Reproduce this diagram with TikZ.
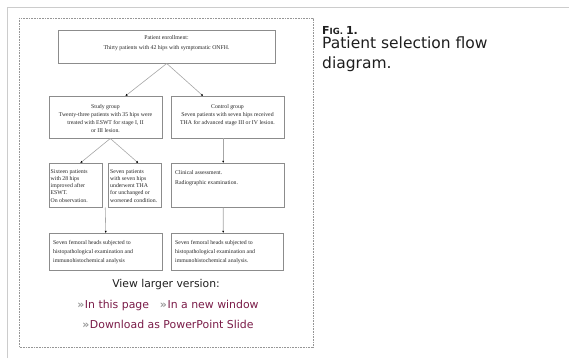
\documentclass[tikz,border=0pt]{standalone}
\usepackage{fontspec}
\setmainfont{DejaVu Sans}
\newfontfamily\flowfont{Liberation Serif}
\usetikzlibrary{arrows.meta,shadows,calc}

\definecolor{rulegray}{RGB}{204,204,204}
\definecolor{dotgray}{RGB}{150,150,150}
\definecolor{boxgray}{RGB}{140,140,140}
\definecolor{linkred}{RGB}{122,28,72}
\definecolor{captext}{RGB}{30,30,30}

% fixed font setups for the flowchart text
\newcommand{\flowsize}[1]{\flowfont\fontsize{5.8}{#1}\selectfont}
\newcommand{\dbl}{{\bfseries\color{gray!80}»}\kern0.5pt}

\tikzset{
  flowbox/.style={draw=boxgray, line width=0.5pt, fill=white, anchor=north west,
    inner sep=0pt,
    drop shadow={shadow xshift=0.6pt, shadow yshift=-0.6pt, fill=black!70, opacity=1}},
  flowtxt/.style={inner sep=0pt, text=black!85},
  flowarrow/.style={draw=gray!70, line width=0.6pt,
    -{Latex[length=2.2pt,width=2.2pt,black]}},
  linktxt/.style={inner sep=0pt, anchor=base, text=linkred,
    font=\fontsize{10.9}{12}\selectfont},
}

\begin{document}
\begin{tikzpicture}[x=1pt,y=-1pt]
\useasboundingbox (0,0) rectangle (569,358);

% page rules and dotted figure frame
\draw[rulegray, line width=0.8pt] (7,358) -- (7,7) -- (569,7);
\draw[dotgray, line width=0.5pt, dash pattern=on 0.8pt off 0.8pt]
  (19,18) rectangle (313,347);

% caption
\node[anchor=base west, inner sep=0pt, text=captext] (figlabel) at (322,35)
  {\bfseries\fontsize{11}{13}\selectfont F\fontsize{8.5}{13}\selectfont IG. \fontsize{11}{13}\selectfont 1.};
\node[anchor=base west, inner sep=0pt, text=captext, align=left,
  font=\fontsize{15.5}{20}\selectfont] (figcaption) at (322,69)
  {Patient selection flow\\diagram.};

% flowchart boxes
\node[flowbox, minimum width=217pt, minimum height=33pt] (enrol) at (58,30) {};
\node[flowbox, minimum width=113pt, minimum height=42pt] (study) at (49,96) {};
\node[flowbox, minimum width=113pt, minimum height=42pt] (control) at (171,96) {};
\node[flowbox, minimum width=53pt, minimum height=44pt] (improved) at (49,163) {};
\node[flowbox, minimum width=53pt, minimum height=44pt] (underwent) at (108,163) {};
\node[flowbox, minimum width=113pt, minimum height=44pt] (clinical) at (171,163) {};
\node[flowbox, minimum width=113pt, minimum height=37pt] (heads1) at (49,233) {};
\node[flowbox, minimum width=112pt, minimum height=37pt] (heads2) at (171,233) {};

% box texts
\node[flowtxt, anchor=north, align=center, font=\flowsize{10}] (enroltxt) at (166.5,35.2)
  {Patient enrollment:\\Thirty patients with 42 hips with symptomatic ONFH.};
\node[flowtxt, anchor=north, align=center, font=\flowsize{8}] (studytxt) at (105.5,104.2)
  {Study group\\Twenty-three patients with 35 hips were\\treated with ESWT for stage I, II\\or III lesion.};
\node[flowtxt, anchor=north, align=center, font=\flowsize{8}] (controltxt) at (227.5,104.2)
  {Control group\\Seven patients with seven hips received\\THA for advanced stage III or IV lesion.};
\node[flowtxt, anchor=north west, align=left, font=\flowsize{7.2}] (improvedtxt) at (50.5,169.2)
  {Sixteen patients\\with 28 hips\\improved after\\ESWT.\\On observation.};
\node[flowtxt, anchor=north west, align=left, font=\flowsize{7.2}] (underwenttxt) at (110,169.2)
  {Seven patients\\with seven hips\\underwent THA\\for unchanged or\\worsened condition.};
\node[flowtxt, anchor=north west, align=left, font=\flowsize{9.6}] (clinicaltxt) at (175,170.2)
  {Clinical assessment.\\Radiographic examination.};
\node[flowtxt, anchor=north west, align=left, font=\flowsize{9}] (heads1txt) at (53,239.8)
  {Seven femoral heads subjected to\\histopathological examination and\\immunohistochemical analysis};
\node[flowtxt, anchor=north west, align=left, font=\flowsize{9}] (heads2txt) at (175,239.8)
  {Seven femoral heads subjected to\\histopathological examination and\\immunohistochemical analysis.};

% connectors
\draw[flowarrow] (enrol.south) -- ($(study.north west)!0.673!(study.north east)$);
\draw[flowarrow] (enrol.south) -- ($(control.north west)!0.283!(control.north east)$);
\coordinate (studyfork) at ($(study.south west)!0.54!(study.south east)$);
\draw[flowarrow] (studyfork) -- ($(improved.north west)!0.585!(improved.north east)$);
\draw[flowarrow] (studyfork) -- ($(underwent.north west)!0.566!(underwent.north east)$);
\draw[flowarrow] ($(control.south west)!0.46!(control.south east)$)
  -- ($(clinical.north west)!0.46!(clinical.north east)$);
\coordinate (pairgap) at ($(improved.south east)!0.5!(underwent.south west)$);
\draw[flowarrow] (pairgap) -- (heads1.north);
\draw[flowarrow] ($(clinical.south west)!0.46!(clinical.south east)$)
  -- ($(heads2.north west)!0.464!(heads2.north east)$);

% links under the figure
\node[inner sep=0pt, anchor=base, text=captext, font=\fontsize{10.8}{12}\selectfont]
  (viewlarger) at (166,287) {View larger version:};
\node[linktxt] (links1) at (168,308) {\dbl In this page\quad\dbl In a new window};
\node[linktxt] (links2) at (168,328) {\dbl Download as PowerPoint Slide};
\end{tikzpicture}
\end{document}
